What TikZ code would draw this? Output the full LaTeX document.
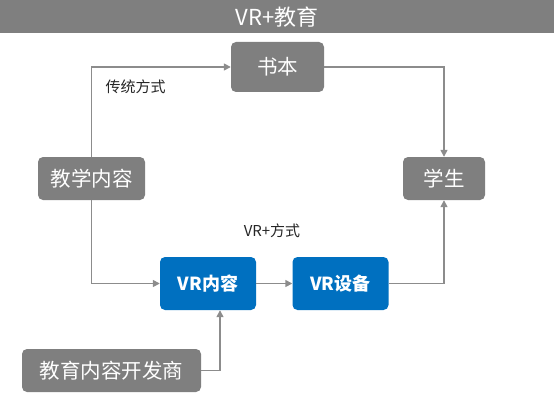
\documentclass[tikz,border=0pt]{standalone}
\usepackage{fontspec}
\setmainfont{Noto Sans CJK SC}
\usepackage{tikz}
\usetikzlibrary{positioning,arrows.meta}
\definecolor{boxgray}{HTML}{7F7F7F}
\definecolor{linegray}{HTML}{8C8C8C}
\definecolor{vrblue}{HTML}{0070C0}

\begin{document}
\begin{tikzpicture}[x=1pt,y=-1pt]
	
	\tikzset{graybox/.style={
			fill=boxgray,
			text=white,
			rounded corners=5pt,
			inner sep=0pt,
			minimum height=#1,
			font=\fontsize{20.5}{22}\selectfont
		},
		graybox/.default=43pt,
		bluebox/.style={
			fill=vrblue,
			text=white,
			rounded corners=5pt,
			inner sep=0pt,
			minimum width=96pt,
			minimum height=53pt,
			font=\fontsize{18}{20}\selectfont\bfseries
		},
		flow/.style={
			draw=linegray,
			line width=1.5pt,
			-{Triangle[length=7pt,width=7pt]}
		},
		note/.style={font=\fontsize{15}{17}\selectfont, text=black!85}
	}
	
	\useasboundingbox (0,0) rectangle (554,401);
	\fill[boxgray] (0,0) rectangle (554,33);
	\node[text=white, font=\fontsize{22}{24}\selectfont] (title) at (277,17) {VR+教育};
	
	\node[graybox=50pt, minimum width=93pt] (book) at (277.5,67) {书本};
	\node[graybox, minimum width=107pt] (content) at (91.5,178.5) {教学内容};
	\node[graybox, minimum width=82pt] (student) at (444,178.5) {学生};
	\node[bluebox] (vrcontent) at (208,283.5) {VR内容};
	\node[bluebox] (vrdevice) at (340.5,283.5) {VR设备};
	\node[graybox, minimum width=179pt] (vendor) at (111.5,370.5) {教育内容开发商};
	
	\node[note, anchor=west] (trad) at (102,87) {传统方式};
	\node[note] (vrway) at (272,231) {VR+方式};
	
	\coordinate (vrin) at ([xshift=12pt]vrcontent.south);
	
	\draw[flow] (content.north) |- (book.west);
	\draw[flow] (book.east) -| (student.north);
	\draw[flow] (content.south) |- (vrcontent.west);
	\draw[flow] (vrcontent) -- (vrdevice);
	\draw[flow] (vrdevice.east) -| (student.south);
	\draw[flow] (vendor.east) -| (vrin);
	
\end{tikzpicture}
\end{document}
